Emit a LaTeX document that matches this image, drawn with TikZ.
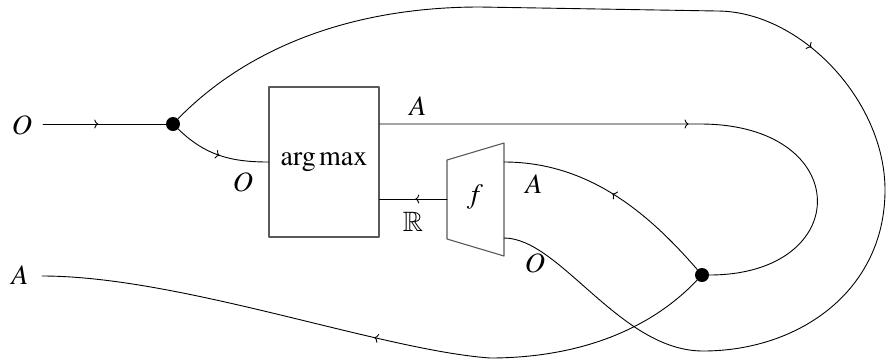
\documentclass[tikz,border=0pt]{standalone}
\usepackage{mathptmx}
\usepackage{amssymb}
\usetikzlibrary{arrows.meta,calc,decorations.markings}

\begin{document}
\begin{tikzpicture}[x=1pt,y=-1pt,>={To[length=4pt,width=9pt]},line cap=round,line join=round,font=\fontsize{28}{32}\selectfont]
\useasboundingbox (0,0) rectangle (886,360);
\tikzset{wire/.style={draw=black,line width=0.9pt},box/.style={draw=black!65,line width=1.1pt},joint/.style={circle,fill=black,inner sep=0pt,minimum size=14pt},tip/.style={postaction={decorate},decoration={markings,mark=at position #1 with {\arrow{>}}}}}
\node[joint] (splitO) at (173,124) {};
\node[joint] (splitA) at (702,275) {};
\node[box,minimum width=110pt,minimum height=150pt] (argmax) at (324,162) {$\arg\max$};
\node (f) at (475,197) {$f$};
\draw[box] (447,160) -- (504,143) -- (504,256) -- (447,239) -- cycle;
\coordinate (inO) at (43,124); \coordinate (outA) at (42,276);
\coordinate (argA) at ($(argmax.east)+(0,-38)$); \coordinate (argR) at ($(argmax.east)+(0,37)$);
\coordinate (bendA) at (700,124);
\coordinate (fin) at (447,199); \coordinate (fA) at (504,162); \coordinate (fO) at (504,238);
\draw[wire,tip=0.45] (inO) -- (splitO);
\draw[wire,tip=0.5] (splitO) .. controls (205,155) and (230,162) .. (argmax.west);
\draw[wire,tip=0.47] (fin) -- (argR);
\draw[wire,tip=309pt] (argA) -- (bendA) .. controls (855,124) and (855,275) .. (splitA);
\draw[wire,tip=0.5] (splitA) .. controls (650,215) and (590,162) .. (fA);
\draw[wire,tip=671pt] (splitO) .. controls (240,55) and (340,7) .. (480,7) -- (717,11) .. controls (800,11) and (885,100) .. (885,190) .. controls (885,290) and (800,351) .. (703,351) .. controls (620,351) and (560,238) .. (fO);
\draw[wire,tip=345pt] (splitA) .. controls (640,340) and (560,358) .. (490,358) .. controls (380,350) and (180,276) .. (outA);
\node (labInO) at (22,125) {$O$};
\node (labOutA) at (20,275) {$A$};
\node (labArgA) at (418,106) {$A$};
\node (labArgO) at (243,182) {$O$};
\node (labR) at (413,222) {$\mathbb{R}$};
\node (labFA) at (534,184) {$A$};
\node (labFO) at (535,263) {$O$};
\end{tikzpicture}
\end{document}
